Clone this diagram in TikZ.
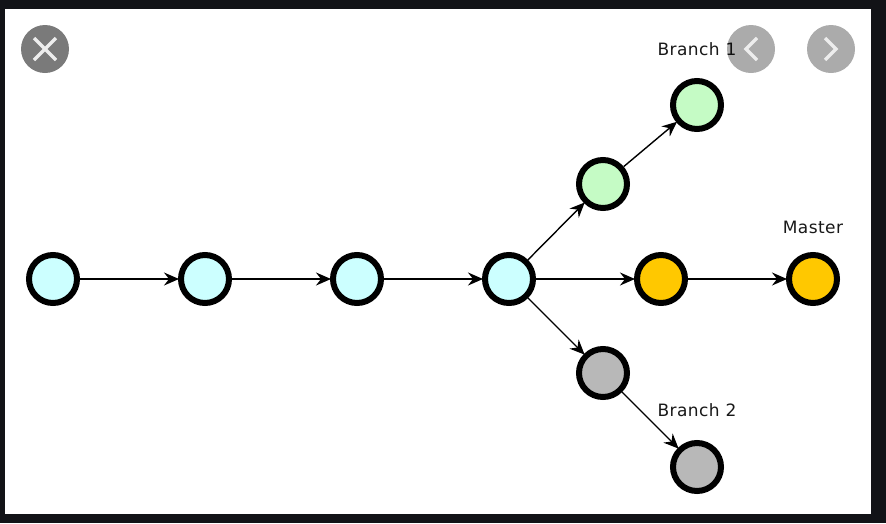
\documentclass[tikz,border=0pt]{standalone}
\usepackage{fontspec}
\setmainfont[LetterSpace=2.5]{DejaVu Sans}
\usetikzlibrary{arrows.meta}
\definecolor{pagedark}{HTML}{121317}
\definecolor{cblue}{HTML}{CCFFFF}
\definecolor{cgreen}{HTML}{C5FBC5}
\definecolor{corange}{HTML}{FFC800}
\definecolor{cgray}{HTML}{B8B8B8}
\tikzset{
  commit/.style={circle,draw=black,line width=6pt,minimum size=48pt,inner sep=0pt,outer sep=3pt},
  link/.style={draw=black,line width=1.4pt,-{Stealth[length=15pt,width=13pt,inset=5pt]},shorten >=-1pt},
  lbl/.style={inner sep=0pt,font=\fontsize{17}{20}\selectfont,text=black!90},
  btn/.style={circle,minimum size=48pt,inner sep=0pt,fill=black,fill opacity=.33},
  icon/.style={draw=white!93!black,line width=3.5pt,line cap=butt,line join=miter},
}
\begin{document}
\begin{tikzpicture}[x=1pt,y=-1pt]
\useasboundingbox (0,0) rectangle (886,523);
\fill[pagedark] (0,0) rectangle (886,523);
\fill[white] (5,9) rectangle (871,514);
\node[commit,fill=cblue] (a) at (53,279) {};
\node[commit,fill=cblue] (b) at (205,279) {};
\node[commit,fill=cblue] (c) at (357,279) {};
\node[commit,fill=cblue] (d) at (509,279) {};
\node[commit,fill=corange] (e) at (661,279) {};
\node[commit,fill=corange] (f) at (813,279) {};
\node[commit,fill=cgreen] (g) at (603,184) {};
\node[commit,fill=cgreen] (h) at (697,105) {};
\node[commit,fill=cgray] (i) at (603,373) {};
\node[commit,fill=cgray] (j) at (697,467) {};
\path[link] (a) -- (b);
\path[link] (b) -- (c);
\path[link] (c) -- (d);
\path[link] (d) -- (e);
\path[link] (e) -- (f);
\path[link] (d) -- (g);
\path[link] (g) -- (h);
\path[link] (d) -- (i);
\path[link] (i) -- (j);
\node[lbl] (l1) at (697,49) {Branch 1};
\node[lbl] (l2) at (697,410) {Branch 2};
\node[lbl] (l3) at (813,227) {Master};
\node[btn,fill opacity=.52] (close) at (45,49) {};
\node[btn] (prev) at (751,49) {};
\node[btn] (next) at (831,49) {};
\draw[icon] (34,38) -- (56,60) (56,38) -- (34,60);
\draw[icon] (757,38) -- (746,49) -- (757,60);
\draw[icon] (825,38) -- (836,49) -- (825,60);
\end{tikzpicture}
\end{document}
